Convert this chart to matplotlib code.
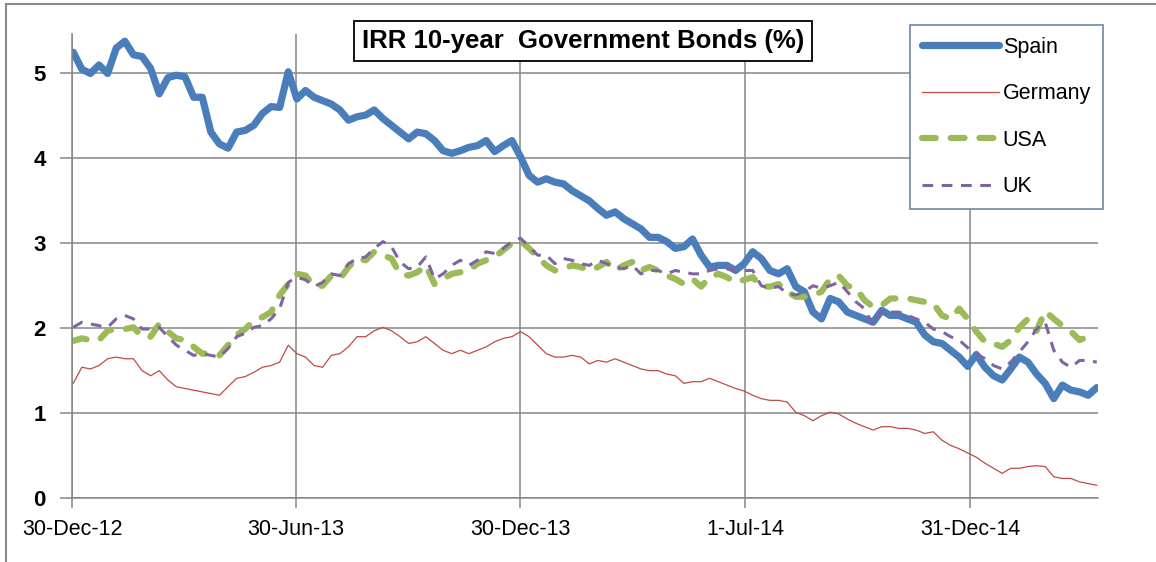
import pandas as pd
import matplotlib
matplotlib.use("Agg")
import matplotlib.pyplot as plt
from matplotlib.lines import Line2D

plt.rcParams['font.family'] = ['Liberation Sans', 'DejaVu Sans']

# weekly readings, starting 31-Dec-2012
dates = pd.date_range("2012-12-31", periods=120, freq="7D")

spain = [5.25, 5.05, 5.0, 5.1, 5.0, 5.3, 5.38, 5.22, 5.2, 5.06,
         4.76, 4.95, 4.98, 4.96, 4.72, 4.72, 4.31, 4.17, 4.12, 4.31,
         4.33, 4.39, 4.53, 4.61, 4.6, 5.02, 4.7, 4.8,
         4.72, 4.68, 4.64, 4.57, 4.45, 4.49, 4.51, 4.57, 4.47, 4.39,
         4.31, 4.23, 4.31, 4.29, 4.21, 4.09, 4.06, 4.09, 4.13, 4.15,
         4.21, 4.08, 4.15,
         4.21, 4.02, 3.8, 3.72,
         3.76, 3.72, 3.7, 3.62, 3.56, 3.5, 3.41, 3.33, 3.37, 3.29,
         3.23, 3.17, 3.07, 3.07, 3.02, 2.94, 2.96, 3.05, 2.86, 2.72,
         2.74, 2.74, 2.68, 2.76, 2.9,
         2.82, 2.68, 2.64, 2.7, 2.49, 2.43, 2.19, 2.11, 2.35, 2.31,
         2.19, 2.15, 2.11, 2.07, 2.21, 2.15, 2.15, 2.11, 2.07, 1.92,
         1.84, 1.82, 1.74, 1.66, 1.55, 1.69, 1.54,
         1.44, 1.39, 1.52, 1.66, 1.6, 1.46, 1.35, 1.17, 1.33, 1.27,
         1.25, 1.21, 1.3]

germany = [1.35, 1.54, 1.52, 1.56, 1.64, 1.66, 1.64, 1.64, 1.5, 1.44,
           1.5, 1.39, 1.31, 1.29, 1.27, 1.25, 1.23, 1.21, 1.31, 1.41,
           1.43, 1.48, 1.54, 1.56, 1.6, 1.8, 1.7, 1.66,
           1.56, 1.54, 1.68, 1.7, 1.78, 1.9, 1.9, 1.97, 2.01, 1.97,
           1.9, 1.82, 1.84, 1.9, 1.82, 1.74, 1.7, 1.74, 1.7, 1.74,
           1.78, 1.84, 1.88,
           1.9, 1.96, 1.9, 1.8,
           1.7, 1.66, 1.66, 1.68, 1.66, 1.58, 1.62, 1.6, 1.64, 1.6,
           1.56, 1.52, 1.5, 1.5, 1.46, 1.44, 1.35, 1.37, 1.37, 1.41,
           1.37, 1.33, 1.29, 1.26, 1.21,
           1.17, 1.15, 1.15, 1.13, 1.01, 0.97, 0.91, 0.97, 1.01, 0.99,
           0.93, 0.88, 0.84, 0.8, 0.84, 0.84, 0.82, 0.82, 0.8, 0.76,
           0.78, 0.68, 0.62, 0.58, 0.53, 0.48, 0.41,
           0.35, 0.29, 0.35, 0.35, 0.37, 0.38, 0.37, 0.25, 0.23, 0.23,
           0.19, 0.17, 0.15]

usa = [1.85, 1.88, 1.86, 1.86, 1.97, 1.99, 1.99, 2.01, 1.9, 1.9,
       2.05, 1.96, 1.88, 1.86, 1.78, 1.7, 1.7, 1.68, 1.8, 1.92,
       1.99, 2.09, 2.13, 2.19, 2.39, 2.52, 2.64, 2.62,
       2.5, 2.5, 2.62, 2.58, 2.72, 2.82, 2.8, 2.9, 2.86, 2.82,
       2.64, 2.62, 2.66, 2.74, 2.52, 2.58, 2.64, 2.66, 2.68, 2.76,
       2.8, 2.84, 2.92,
       3.0, 3.03, 2.94, 2.84,
       2.74, 2.68, 2.7, 2.74, 2.72, 2.68, 2.72, 2.78, 2.68, 2.74,
       2.78, 2.68, 2.72, 2.68, 2.62, 2.58, 2.52, 2.58, 2.49, 2.6,
       2.64, 2.6, 2.54, 2.57, 2.6,
       2.49, 2.49, 2.52, 2.43, 2.37, 2.37, 2.39, 2.43, 2.58, 2.62,
       2.5, 2.47, 2.33, 2.25, 2.27, 2.35, 2.35, 2.35, 2.33, 2.31,
       2.29, 2.15, 2.11, 2.23, 2.11, 1.96, 1.84,
       1.82, 1.78, 1.86, 2.01, 2.11, 1.97, 2.2, 2.11, 2.03, 1.96,
       1.86, 1.9, 1.9]

uk = [2.01, 2.07, 2.05, 2.03, 2.01, 2.11, 2.15, 2.11, 1.99, 1.99,
      2.01, 1.9, 1.8, 1.74, 1.68, 1.7, 1.68, 1.66, 1.76, 1.9,
      1.94, 2.01, 2.03, 2.11, 2.23, 2.54, 2.6, 2.57,
      2.49, 2.54, 2.64, 2.62, 2.76, 2.82, 2.84, 2.94, 3.02, 2.96,
      2.78, 2.7, 2.72, 2.84, 2.58, 2.64, 2.74, 2.8, 2.74, 2.8,
      2.9, 2.88, 2.94,
      3.02, 3.06, 2.96, 2.86,
      2.86, 2.76, 2.82, 2.8, 2.76, 2.74, 2.8, 2.76, 2.72, 2.7,
      2.74, 2.64, 2.68, 2.68, 2.64, 2.68, 2.66, 2.64, 2.64, 2.68,
      2.7, 2.7, 2.68, 2.68, 2.68,
      2.5, 2.47, 2.49, 2.41, 2.39, 2.43, 2.5, 2.47, 2.5, 2.54,
      2.43, 2.31, 2.23, 2.03, 2.21, 2.19, 2.19, 2.15, 2.11, 2.07,
      1.99, 1.96, 1.9, 1.86, 1.77, 1.7, 1.64,
      1.56, 1.52, 1.6, 1.72, 1.84, 1.99, 2.07, 1.74, 1.6, 1.54,
      1.62, 1.62, 1.6]

tick_dates = pd.to_datetime(["2012-12-30", "2013-06-30", "2013-12-30",
                             "2014-07-01", "2014-12-31"])
tick_labels = ["30-Dec-12", "30-Jun-13", "30-Dec-13", "1-Jul-14", "31-Dec-14"]
title = "IRR 10-year  Government Bonds (%)"

W, H = 1156, 562
fig = plt.figure(figsize=(W / 100, H / 100), dpi=100)
ax = fig.add_axes([72 / W, 64 / H, 1026 / W, 464 / H])

ax.plot(dates, spain, color='#4A7EBB', lw=5.2, solid_capstyle='round',
        solid_joinstyle='round', label='Spain')
ax.plot(dates, germany, color='#BE4B48', lw=0.9, label='Germany')
ax.plot(dates, usa, color='#9BBB59', lw=4.5, dashes=(2.2, 2.4),
        dash_capstyle='round', label='USA')
ax.plot(dates, uk, color='#8064A2', lw=2.2, dashes=(3.5, 2.8), label='UK')

start = pd.Timestamp("2012-12-30")
ax.set_xlim(start, start + pd.Timedelta(days=835))
ax.set_ylim(0, 5.465)

ax.set_xticks(tick_dates)
ax.set_xticklabels(tick_labels)
ax.set_yticks(range(6))
for lbl in ax.get_yticklabels():
    lbl.set_fontweight('bold')

gcol = '#868686'
ax.set_axisbelow(True)
ax.grid(True, color=gcol, lw=1.1)
for s in ['top', 'right']:
    ax.spines[s].set_visible(False)
for s in ['left', 'bottom']:
    ax.spines[s].set_color(gcol)
    ax.spines[s].set_linewidth(1.1)
ax.tick_params(axis='x', length=7, width=1.1, color=gcol, pad=8, labelsize=15.5)
ax.tick_params(axis='y', length=9, width=1.1, color=gcol, pad=10, labelsize=16)

leg = ax.legend(loc='upper left', bbox_to_anchor=(910 / W, 1 - 25 / H),
                bbox_transform=fig.transFigure, borderaxespad=0,
                fontsize=15.5, handlelength=3.6, handletextpad=0.15,
                labelspacing=1.18, borderpad=0.55, fancybox=False,
                framealpha=1)
leg.get_frame().set_edgecolor('#6C87A8')
leg.get_frame().set_linewidth(1.2)

fig.text(583 / W, 1 - 41 / H, title, ha='center', va='center',
         fontsize=18.5, fontweight='bold',
         bbox=dict(boxstyle='square,pad=0.3', fc='white', ec='black', lw=1.3))

# outer chart border (cropped at right and bottom)
bx, by = 6 / W, 1 - 4 / H
fig.add_artist(Line2D([bx, 1], [by, by], transform=fig.transFigure, color='#8a8a8a', lw=1.5))
fig.add_artist(Line2D([bx, bx], [0, by], transform=fig.transFigure, color='#8a8a8a', lw=1.5))

fig.savefig("out.png", dpi=100)
